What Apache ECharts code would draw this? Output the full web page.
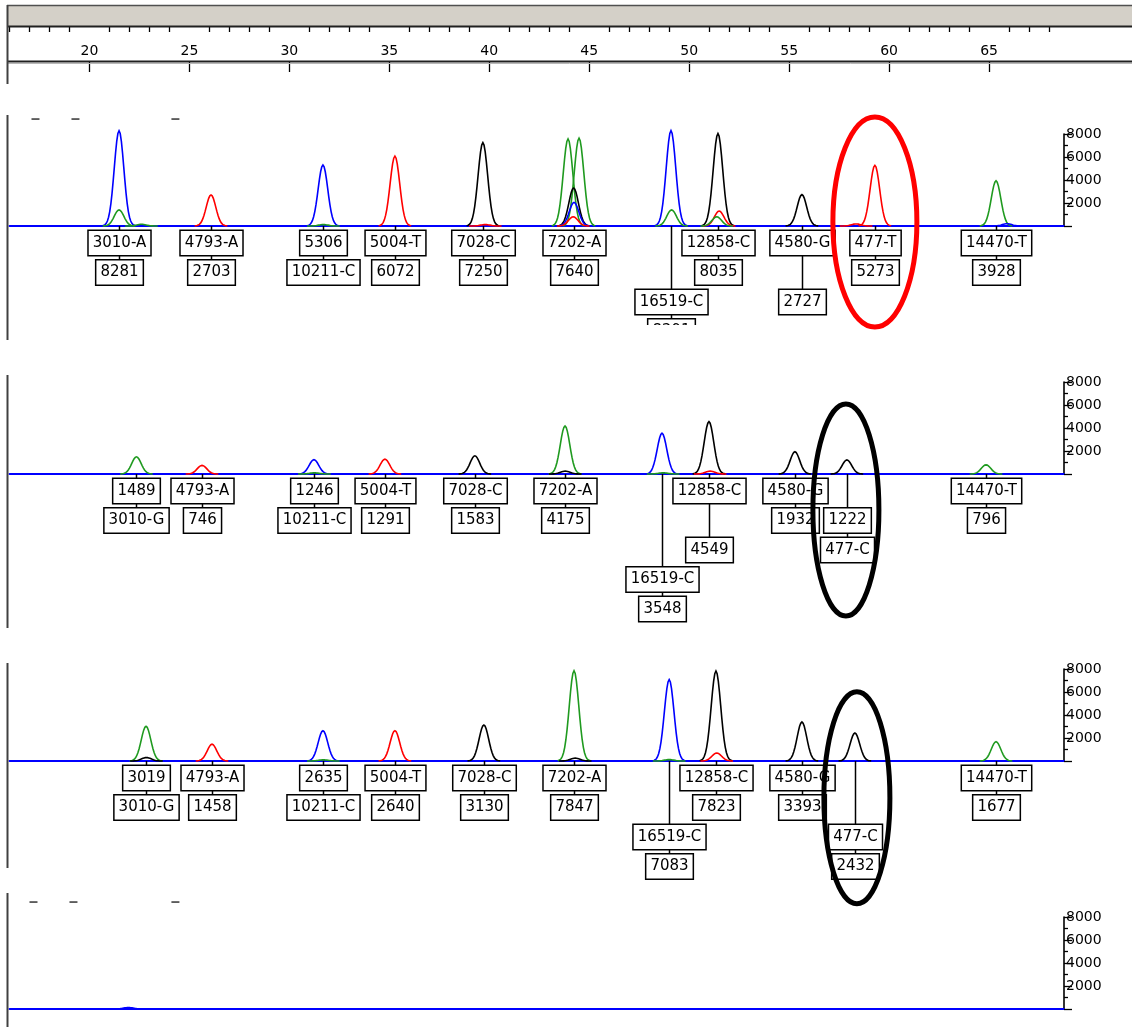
<!DOCTYPE html>
<html>
<head>
<meta charset="utf-8">
<style>
  html, body { margin: 0; padding: 0; background: #fff; }
  #chart { width: 1132px; height: 1027px; }
</style>
<script src="https://cdn.jsdelivr.net/npm/echarts@6/dist/echarts.min.js"></script>
</head>
<body>
<div id="chart"></div>
<script>
// size ruler (bp)
const rulerMajor = [20, 25, 30, 35, 40, 45, 50, 55, 60, 65]
const rulerMinor = [16, 17, 18, 19, 21, 22, 23, 24, 26, 27, 28, 29, 31, 32, 33, 34, 36, 37, 38, 39,
  41, 42, 43, 44, 46, 47, 48, 49, 51, 52, 53, 54, 56, 57, 58, 59, 61, 62, 63, 64, 66, 67, 68]
const rfuTicks = [2000, 4000, 6000, 8000]

// peaks: [size, height, dye]  B blue, G green, K black, R red
const peaks1 = [
  [21.48, 8281, 'B'], [21.48, 1400, 'G'], [22.6, 150, 'G'], [26.08, 2703, 'R'],
  [31.68, 5306, 'B'], [31.7, 120, 'G'], [35.28, 6072, 'R'], [39.68, 7250, 'K'], [39.8, 120, 'R'],
  [43.94, 7570, 'G'], [44.49, 7640, 'G'], [44.22, 3300, 'K'], [44.24, 2050, 'B'], [44.2, 800, 'R'],
  [49.09, 8290, 'B'], [49.12, 1400, 'G'], [51.44, 8035, 'K'], [51.5, 1300, 'R'], [51.38, 800, 'G'],
  [55.64, 2727, 'K'], [58.35, 180, 'R'], [59.29, 5273, 'R'], [65.35, 3928, 'G'], [65.9, 200, 'B']
]
const peaks2 = [
  [22.35, 1489, 'G'], [25.63, 746, 'R'], [31.23, 1246, 'B'], [31.25, 100, 'G'], [34.78, 1291, 'R'],
  [39.28, 1583, 'K'], [43.79, 4175, 'G'], [43.8, 250, 'K'], [48.64, 3548, 'B'], [48.7, 100, 'G'],
  [50.99, 4549, 'K'], [51.05, 250, 'R'], [55.29, 1932, 'K'], [57.89, 1222, 'K'], [64.85, 796, 'G']
]
const peaks3 = [
  [22.83, 3019, 'G'], [22.85, 300, 'K'], [26.13, 1458, 'R'], [31.68, 2635, 'B'], [31.7, 100, 'G'],
  [35.28, 2640, 'R'], [39.73, 3130, 'K'], [44.24, 7847, 'G'], [44.3, 250, 'K'], [49.0, 7083, 'B'],
  [49.0, 120, 'G'], [51.34, 7823, 'K'], [51.38, 700, 'R'], [55.64, 3393, 'K'], [58.29, 2432, 'K'],
  [65.35, 1677, 'G']
]
const peaks4 = [[21.95, 130, 'B']]

// allele labels: [size, upper box, lower box, upper row, lower row]
const labels1 = [
  [21.48, '3010-A', '8281', 1, 2], [26.08, '4793-A', '2703', 1, 2], [31.68, '5306', '10211-C', 1, 2],
  [35.28, '5004-T', '6072', 1, 2], [39.68, '7028-C', '7250', 1, 2], [44.24, '7202-A', '7640', 1, 2],
  [49.09, '16519-C', '8291', 3, 4], [51.44, '12858-C', '8035', 1, 2], [55.64, '4580-G', '2727', 1, 3],
  [59.29, '477-T', '5273', 1, 2], [65.35, '14470-T', '3928', 1, 2]
]
const labels2 = [
  [22.35, '1489', '3010-G', 1, 2], [25.63, '4793-A', '746', 1, 2], [31.23, '1246', '10211-C', 1, 2],
  [34.78, '5004-T', '1291', 1, 2], [39.28, '7028-C', '1583', 1, 2], [43.79, '7202-A', '4175', 1, 2],
  [48.64, '16519-C', '3548', 4, 5], [50.99, '12858-C', '4549', 1, 3], [55.29, '4580-G', '1932', 1, 2],
  [57.89, '1222', '477-C', 2, 3], [64.85, '14470-T', '796', 1, 2]
]
const labels3 = [
  [22.83, '3019', '3010-G', 1, 2], [26.13, '4793-A', '1458', 1, 2], [31.68, '2635', '10211-C', 1, 2],
  [35.28, '5004-T', '2640', 1, 2], [39.73, '7028-C', '3130', 1, 2], [44.24, '7202-A', '7847', 1, 2],
  [49.0, '16519-C', '7083', 3, 4], [51.34, '12858-C', '7823', 1, 2], [55.64, '4580-G', '3393', 1, 2],
  [58.29, '477-C', '2432', 3, 4], [65.35, '14470-T', '1677', 1, 2]
]
const labels4 = []

// hand-drawn rings: [size, rfu at centre]
const rings1 = [[59.29, 350]]
const rings2 = [[57.84, -3130]]
const rings3 = [[58.39, -3200]]
const rings4 = []

// little bin marks at the top of some panels
const marks1 = [17.3, 19.3, 24.3]
const marks4 = [17.2, 19.2, 24.3]

const dyeColor = { B: '#0000ff', G: '#1f9a1f', K: '#000000', R: '#ff0000' }
const ringStyle = [
  { rx: 42, ry: 105, color: '#ff0000' },
  { rx: 33, ry: 106, color: '#000000' },
  { rx: 33, ry: 106, color: '#000000' },
  { rx: 33, ry: 106, color: '#000000' }
]
const baselines = [226, 474, 761, 1009]
const X_MIN = 16, X_MAX = 68.75
const SIGMA = 0.24
const ROW = 29.5, BOX_H = 24
const BOX_FONT = '15px "DejaVu Sans"'

const panels = [
  { peaks: peaks1, labels: labels1, rings: rings1, marks: marks1 },
  { peaks: peaks2, labels: labels2, rings: rings2, marks: [] },
  { peaks: peaks3, labels: labels3, rings: rings3, marks: [] },
  { peaks: peaks4, labels: labels4, rings: rings4, marks: marks4 }
]

function peakRenderer(arr) {
  return (params, api) => {
    const [pos, h, dye] = arr[params.dataIndex]
    const pts = []
    for (let k = -14; k <= 14; k++) {
      const d = k / 14 * 3.4 * SIGMA
      pts.push(api.coord([pos + d, h * Math.exp(-d * d / (2 * SIGMA * SIGMA))]))
    }
    return {
      type: 'polyline',
      shape: { points: pts },
      style: { stroke: dyeColor[dye], fill: null, lineWidth: 1.6 }
    }
  }
}

function box(x, y, text) {
  return {
    type: 'text', x: x, y: y,
    style: {
      text: text, font: BOX_FONT, fill: '#000',
      align: 'center', verticalAlign: 'top',
      backgroundColor: '#fff', borderColor: '#000', borderWidth: 1.5,
      padding: [3, 4, 3, 4], lineHeight: 18
    }
  }
}

function labelRenderer(arr) {
  return (params, api) => {
    const [pos, upper, lower, r1, r2] = arr[params.dataIndex]
    const c = api.coord([pos, 0])
    const x = Math.round(c[0]) + 0.5, base = c[1]
    const t1 = base + 5 + (r1 - 1) * ROW
    const t2 = base + 5 + (r2 - 1) * ROW
    const stroke = { stroke: '#000', lineWidth: 1.5 }
    return {
      type: 'group',
      children: [
        { type: 'line', shape: { x1: x, y1: base, x2: x, y2: t1 }, style: stroke },
        { type: 'line', shape: { x1: x, y1: t1 + BOX_H, x2: x, y2: t2 }, style: stroke },
        box(x, t1, upper),
        box(x, t2, lower)
      ]
    }
  }
}

function ringRenderer(arr, st) {
  return (params, api) => {
    const [pos, v] = arr[params.dataIndex]
    const c = api.coord([pos, v])
    return {
      type: 'ellipse',
      shape: { cx: c[0], cy: c[1], rx: st.rx, ry: st.ry },
      style: { fill: null, stroke: st.color, lineWidth: 5 }
    }
  }
}

function markRenderer(arr) {
  return (params, api) => {
    const c = api.coord([arr[params.dataIndex], 9300])
    return {
      type: 'rect',
      shape: { x: c[0] - 4, y: c[1] - 0.75, width: 8, height: 1.5 },
      style: { fill: '#333' }
    }
  }
}

const grid = [{ left: 9.5, width: 1054.5, top: 27, height: 34, outerBoundsMode: 'none' }]
const xAxis = [
  {
    gridIndex: 0, type: 'value', position: 'top', min: X_MIN, max: X_MAX,
    axisLine: { show: false }, splitLine: { show: false },
    axisTick: { show: true, inside: true, length: 11, customValues: rulerMajor, lineStyle: { color: '#000', width: 1.3 } },
    axisLabel: { show: true, inside: true, margin: 17, customValues: rulerMajor, color: '#000', fontSize: 14, fontFamily: 'DejaVu Sans' }
  },
  {
    gridIndex: 0, type: 'value', position: 'top', min: X_MIN, max: X_MAX,
    axisLine: { show: false }, splitLine: { show: false }, axisLabel: { show: false },
    axisTick: { show: true, inside: true, length: 5, customValues: rulerMinor, lineStyle: { color: '#000', width: 1.3 } }
  }
]
const yAxis = [{ gridIndex: 0, type: 'value', show: false, min: 0, max: 1 }]
const series = []

panels.forEach((p, i) => {
  const g = i + 1
  grid.push({ left: 9.5, width: 1054.5, top: baselines[i] - 92, height: 92, outerBoundsMode: 'none' })
  xAxis.push({
    gridIndex: g, type: 'value', min: X_MIN, max: X_MAX,
    axisLine: { show: true, lineStyle: { color: '#0000ff', width: 2 } },
    axisTick: { show: false }, axisLabel: { show: false }, splitLine: { show: false }
  })
  yAxis.push({
    gridIndex: g, type: 'value', position: 'right', min: 0, max: 8000, interval: 2000,
    axisLine: { show: true, lineStyle: { color: '#000', width: 1.6 } },
    axisTick: { show: true, length: 8, lineStyle: { color: '#000', width: 1.3 } },
    minorTick: { show: true, splitNumber: 2, length: 4, lineStyle: { color: '#000', width: 1.3 } },
    splitLine: { show: false },
    axisLabel: {
      margin: 2, color: '#000', fontSize: 14, fontFamily: 'DejaVu Sans',
      formatter: v => (rfuTicks.indexOf(v) >= 0 ? String(v) : '')
    }
  })
  series.push({
    type: 'custom', xAxisIndex: g + 1, yAxisIndex: g, clip: false, z: 3,
    data: p.peaks, renderItem: peakRenderer(p.peaks)
  })
  series.push({
    type: 'custom', xAxisIndex: g + 1, yAxisIndex: g, clip: false, z: 4,
    data: p.labels, renderItem: labelRenderer(p.labels)
  })
  series.push({
    type: 'custom', xAxisIndex: g + 1, yAxisIndex: g, clip: false, z: 5,
    data: p.rings, renderItem: ringRenderer(p.rings, ringStyle[i])
  })
  series.push({
    type: 'custom', xAxisIndex: g + 1, yAxisIndex: g, clip: false, z: 3,
    data: p.marks, renderItem: markRenderer(p.marks)
  })
})

// left window edge, drawn in pieces like the screenshot
const edgeSegments = [[5, 84], [115, 340], [375, 628], [663, 868], [893, 1027]]

const chart = echarts.init(document.getElementById('chart'))
chart.setOption({
  animation: false,
  backgroundColor: '#fff',
  grid, xAxis, yAxis, series,
  graphic: [
    { type: 'rect', z: 1, shape: { x: 7, y: 5, width: 1125, height: 21 }, style: { fill: '#d4d0c8' } },
    { type: 'line', z: 2, shape: { x1: 7, y1: 5.5, x2: 1132, y2: 5.5 }, style: { stroke: '#505050', lineWidth: 1.5 } },
    { type: 'line', z: 2, shape: { x1: 7, y1: 26.5, x2: 1132, y2: 26.5 }, style: { stroke: '#202020', lineWidth: 2 } },
    { type: 'line', z: 2, shape: { x1: 7, y1: 61.5, x2: 1132, y2: 61.5 }, style: { stroke: '#202020', lineWidth: 2 } },
    { type: 'line', z: 2, shape: { x1: 7, y1: 63.5, x2: 1132, y2: 63.5 }, style: { stroke: '#b8b8b8', lineWidth: 1 } },
    // the first panel's lowest box runs under the next panel
    { type: 'rect', z: 50, shape: { x: 600, y: 325, width: 160, height: 45 }, style: { fill: '#fff' } }
  ].concat(edgeSegments.map(s => ({
    type: 'line', z: 60, shape: { x1: 7.5, y1: s[0], x2: 7.5, y2: s[1] }, style: { stroke: '#404040', lineWidth: 2 }
  })))
})
</script>
</body>
</html>
